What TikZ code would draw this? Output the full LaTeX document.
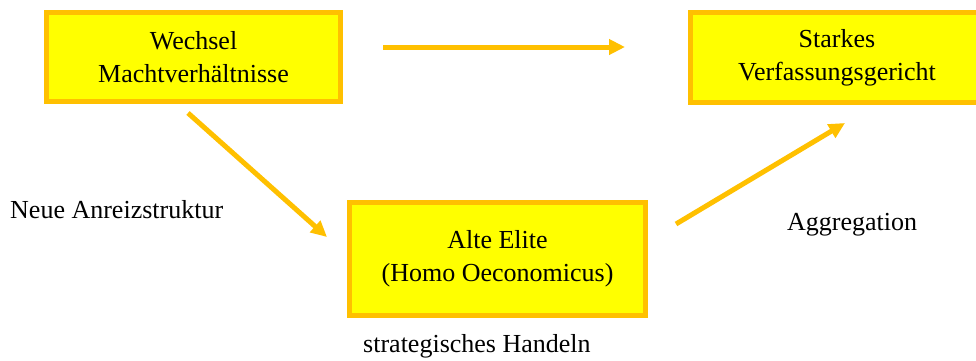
\documentclass[tikz,border=0pt]{standalone}
\usepackage{fontspec}
\setmainfont{Liberation Serif}
\usetikzlibrary{arrows.meta}
\definecolor{boxfill}{HTML}{FFFF00}
\definecolor{gold}{HTML}{FFC000}
\begin{document}
\begin{tikzpicture}[x=1pt,y=-1pt,
  stepbox/.style={draw=gold,fill=boxfill,line width=5pt,rectangle,
    align=center,inner sep=0pt,font=\fontsize{26}{33}\selectfont},
  flow/.style={draw=gold,line width=5pt,
    -{Triangle[length=16pt,width=15pt]}},
  lbl/.style={anchor=base west,inner sep=0pt,font=\fontsize{26}{33}\selectfont}]
\useasboundingbox (0,0) rectangle (976,360);
% boxes
\node[stepbox,minimum width=294pt,minimum height=89pt] (wechsel) at (193.5,57)
  {Wechsel\\Machtverhältnisse};
\node[stepbox,minimum width=293pt,minimum height=90pt] (gericht) at (837,57.5)
  {Starkes\\Verfassungsgericht};
\node[stepbox,minimum width=296pt,minimum height=113pt] (elite) at (497.5,259)
  {Alte Elite\\(Homo Oeconomicus)};
% arrow end points
\coordinate (a1) at (383,47);
\coordinate (a2) at (625,47);
\coordinate (b1) at (188,113);
\coordinate (b2) at (327,237);
\coordinate (c1) at (676,224);
\coordinate (c2) at (845,123);
\draw[flow] (a1) -- (a2);
\draw[flow] (b1) -- (b2);
\draw[flow] (c1) -- (c2);
% labels
\node[lbl] (anreiz) at (10,218) {Neue Anreizstruktur};
\node[lbl] (aggr) at (787,230) {Aggregation};
\node[lbl] (handeln) at (363,352) {strategisches Handeln};
\end{tikzpicture}
\end{document}
